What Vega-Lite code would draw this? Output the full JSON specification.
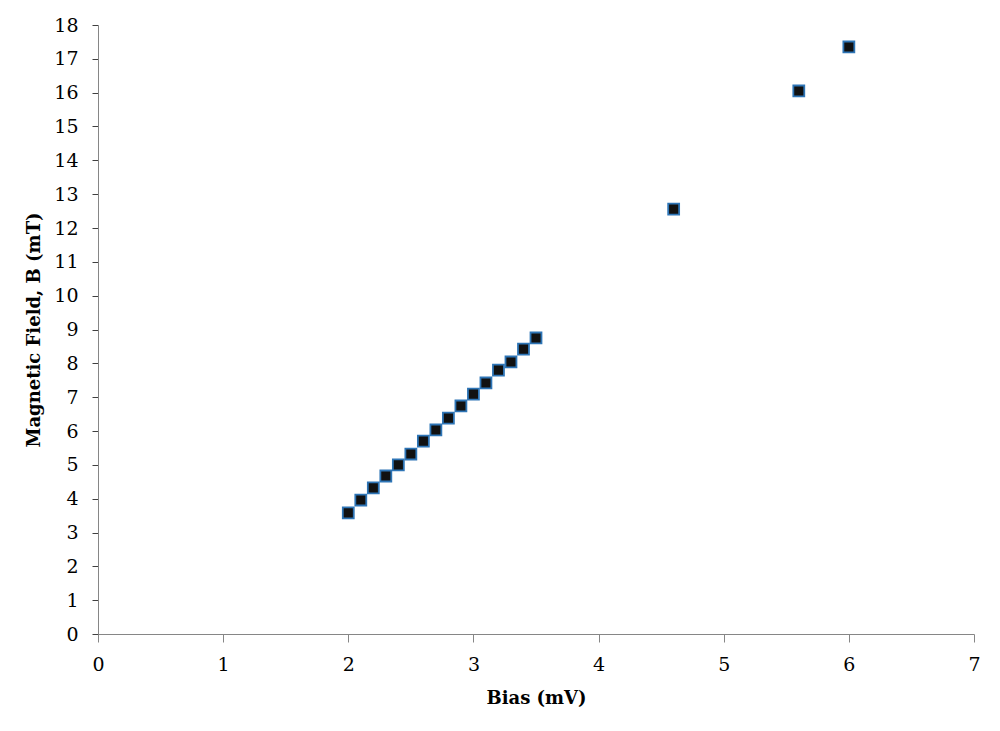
{
  "$schema": "https://vega.github.io/schema/vega-lite/v6.json",
  "autosize": {"type": "none"},
  "width": 876,
  "height": 609,
  "padding": {"left": 98, "top": 25, "right": 26, "bottom": 97},
  "background": "white",
  "config": {
    "view": {"stroke": null},
    "font": "DejaVu Serif",
    "axis": {
      "grid": false,
      "labelFlush": false,
      "domainColor": "#868686",
      "tickColor": "#868686",
      "labelFont": "DejaVu Serif",
      "labelFontSize": 19,
      "labelColor": "#000000",
      "titleFont": "DejaVu Serif",
      "titleFontSize": 18,
      "titleFontWeight": "bold",
      "titleColor": "#000000"
    }
  },
  "data": {
    "values": [
      {"bias": 2.0, "field": 3.58},
      {"bias": 2.1, "field": 3.96},
      {"bias": 2.2, "field": 4.32},
      {"bias": 2.3, "field": 4.67},
      {"bias": 2.4, "field": 5.0},
      {"bias": 2.5, "field": 5.32},
      {"bias": 2.6, "field": 5.7},
      {"bias": 2.7, "field": 6.03},
      {"bias": 2.8, "field": 6.38},
      {"bias": 2.9, "field": 6.74},
      {"bias": 3.0, "field": 7.09},
      {"bias": 3.1, "field": 7.42},
      {"bias": 3.2, "field": 7.8},
      {"bias": 3.3, "field": 8.04},
      {"bias": 3.4, "field": 8.42},
      {"bias": 3.5, "field": 8.75},
      {"bias": 4.6, "field": 12.56},
      {"bias": 5.6, "field": 16.05},
      {"bias": 6.0, "field": 17.35}
    ]
  },
  "mark": {
    "type": "point",
    "shape": "square",
    "filled": true,
    "size": 120,
    "fill": "#111111",
    "stroke": "#2e75b6",
    "strokeWidth": 1.8,
    "opacity": 1
  },
  "encoding": {
    "x": {
      "field": "bias",
      "type": "quantitative",
      "title": "Bias (mV)",
      "scale": {"domain": [0, 7], "nice": false, "zero": true},
      "axis": {"values": [0, 1, 2, 3, 4, 5, 6, 7], "tickSize": 8, "labelPadding": 13, "titlePadding": 15, "format": "d"}
    },
    "y": {
      "field": "field",
      "type": "quantitative",
      "title": "Magnetic Field, B (mT)",
      "scale": {"domain": [0, 18], "nice": false, "zero": true},
      "axis": {"values": [0,1,2,3,4,5,6,7,8,9,10,11,12,13,14,15,16,17,18], "tickSize": 6, "tickColor": "#404040", "labelPadding": 14, "titlePadding": 10, "format": "d"}
    }
  }
}
